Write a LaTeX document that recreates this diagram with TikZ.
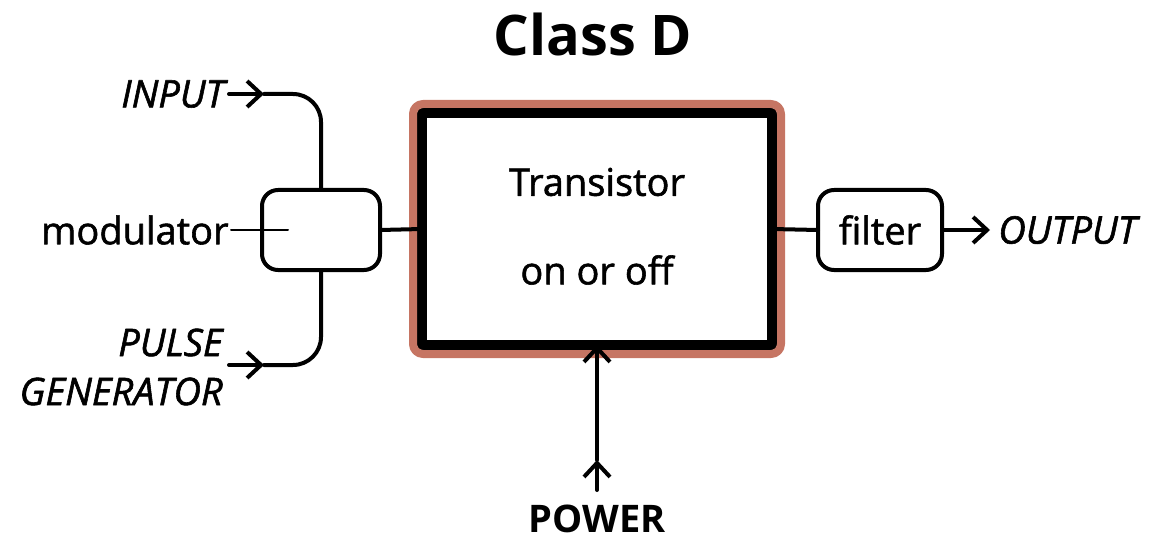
\documentclass[tikz,border=0pt]{standalone}
\usepackage{fontspec}
\setmainfont{Open Sans}
\newfontfamily\semifont{Open Sans}[FakeBold=1.5]
\usetikzlibrary{arrows.meta}
\definecolor{rim}{RGB}{198,117,99}

\begin{document}
\begin{tikzpicture}[
        x=0.5pt,
        y=-0.5pt,
        line cap=round,
        line join=round,
        box/.style={draw, line width=2pt, rounded corners=8pt, fill=white, inner sep=0pt, outer sep=0pt},
        wire/.style={line width=2pt},
        tip/.style={wire, -{Straight Barb[length=7pt, width=13pt]}},
        lbl/.style={font=\semifont\fontsize{19}{24.5}\selectfont, inner sep=0pt},
        ital/.style={lbl, font=\semifont\fontsize{19}{24.5}\selectfont\itshape}
    ]
        \useasboundingbox (0,0) rectangle (1152,540);

        \node[font=\fontsize{28}{32}\selectfont\bfseries] (title) at (593,35) {Class D};

        % transistor stage
        \node[draw, line width=5pt, minimum width=175pt, minimum height=116pt, outer sep=0pt] (tr) at (597,229) {};
        \draw[rim, line width=4pt, rounded corners=5pt] ([xshift=-4.5pt,yshift=-4.5pt]tr.south west) rectangle ([xshift=4.5pt,yshift=4.5pt]tr.north east);
        \node[lbl] (trname) at (597,182) {Transistor};
        \node[lbl] (trstate) at (597,270) {on or off};

        % modulator and its inputs
        \node[box, minimum width=59pt, minimum height=40pt] (mod) at (321,230) {};
        \node[lbl, anchor=east] (modname) at (229,230) {modulator};
        \coordinate (modtick) at (288,230);
        \draw[line width=1pt] ([xshift=1pt]modname.east) -- (modtick);

        \node[ital, anchor=east] (input) at (225,94) {INPUT};
        \coordinate (inarr) at (264,94);
        \draw[tip] ([xshift=2pt]input.east) -- (inarr);
        \draw[wire, rounded corners=14pt] (inarr) -| (mod.north);

        \node[ital, anchor=east, align=right] (pulse) at (223,367) {PULSE\\GENERATOR};
        \coordinate (pulsestart) at (229,365);
        \coordinate (pulsearr) at (264,365);
        \draw[tip] (pulsestart) -- (pulsearr);
        \draw[wire, rounded corners=14pt] (pulsearr) -| (mod.south);

        \draw[wire] (mod.east) -- (tr.west);

        % filter and output
        \node[box, lbl, minimum width=62pt, minimum height=40pt] (filt) at (880,230) {filter};
        \draw[wire] (tr.east) -- (filt.west);
        \coordinate (outarr) at (990,230);
        \draw[tip] (filt.east) -- (outarr);
        \node[ital, anchor=west] (output) at (998,230) {OUTPUT};

        % power
        \coordinate (pwfoot) at (597,490);
        \coordinate (pwmid) at (597,460);
        \draw[tip] (pwfoot) -- (pwmid);
        \draw[tip] (pwmid) -- (tr.south);
        \node[lbl, font=\fontsize{19}{24.5}\selectfont\bfseries] (power) at (597,519) {POWER};
    \end{tikzpicture}
\end{document}
